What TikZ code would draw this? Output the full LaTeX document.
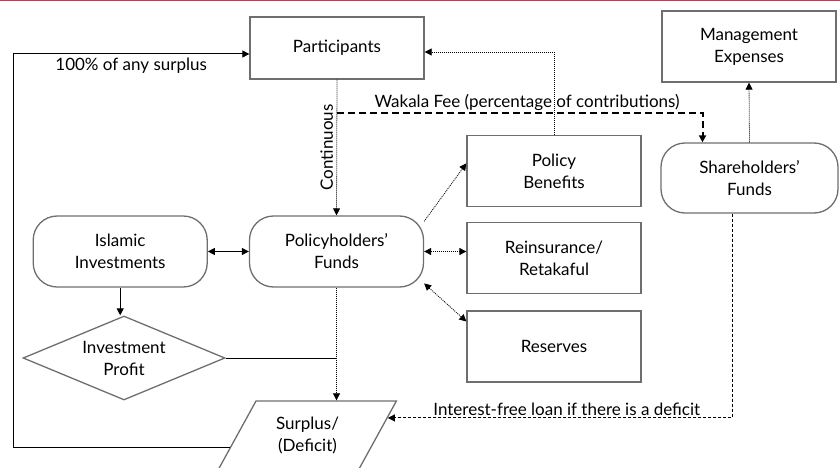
\documentclass[tikz,border=0pt]{standalone}
\usepackage{fontspec}
\setmainfont{Lato}
\usetikzlibrary{positioning,shapes.geometric,arrows.meta}

\definecolor{topline}{HTML}{A54B5F}
\definecolor{boxline}{HTML}{6E6E6E}

\tikzset{
	box/.style={rectangle, draw=boxline, line width=1.3pt, minimum width=174pt, minimum height=71pt, align=center, inner sep=2pt},
	fund/.style={box, rounded corners=24pt},
	flow/.style={dash pattern=on 1pt off 1pt, line width=0.8pt},
	fee/.style={dash pattern=on 7pt off 4pt, line width=2pt},
	loan/.style={dash pattern=on 3pt off 2pt, line width=1pt},
}

\begin{document}
\begin{tikzpicture}[x=1pt, y=-1pt, font=\fontsize{17}{22}\selectfont, >={Stealth[length=7pt,width=7pt,inset=0pt]}]

	\useasboundingbox (0,0) rectangle (840,468);
	\draw[topline, line width=2pt] (0,0) -- (840,0);

	\node[box, minimum height=62pt] (part) at (337,48) {Participants};
	\node[box] (mgmt) at (749,46.5) {Management\\Expenses};
	\node[fund, minimum width=177pt, minimum height=70pt] (share) at (749.5,178) {Shareholders'\\Funds};
	
	\node[box] (ben) at (554,171) {Policy\\Benefits};
	\node[box, below=15pt of ben] (reins) {Reinsurance/\\Retakaful};
	\node[box, below=16pt of reins] (res) {Reserves};
	
	\node[fund] (pol) at (336.5,251.5) {Policyholders'\\Funds};
	\node[fund, left=41pt of pol] (islam) {Islamic\\Investments};
	
	\node[diamond, draw=boxline, line width=1.3pt, minimum width=202pt, minimum height=84pt, aspect=2.4, inner sep=0pt, align=center] (profit) at (124,358) {Investment\\Profit};
	\node[trapezium, trapezium left angle=60, trapezium right angle=120, trapezium stretches, draw=boxline, line width=1.3pt, minimum width=178pt, minimum height=68pt, align=center] (surplus) at (307.5,435) {Surplus/\\(Deficit)};
	
	\coordinate (corner) at (13,54);
	\coordinate (feestart) at (337,113);
	
	\draw[->, line width=1pt] (surplus.189) -| (corner) -- (corner -| part.west) node[midway, below] {100\% of any surplus};
	\draw[->, flow] (part.south) -- (pol.north) node[midway, rotate=90, anchor=south] {Continuous};
	\draw[->, fee] (feestart) -| ([xshift=-47pt]share.north) node[pos=0.26, above, inner sep=1pt] {Wakala Fee (percentage of contributions)};
	\draw[->, flow] (ben.north) |- ([yshift=-4pt]part.east);
	\draw[->, flow] (share.north) -- (mgmt.south);
	
	\draw[->, flow] (pol.19) -- (ben.175);
	\draw[<->, flow] (pol.east) -- (pol.east -| reins.west);
	\draw[<->, flow] (pol.-20) -- (res.164);
	
	\draw[<->, line width=1pt] (islam) -- (pol);
	\draw[->, line width=1pt] (islam.south) -- (islam.south |- profit.north);
	\draw[line width=1pt] (profit.east) -- (profit.east -| pol.south);
	\draw[->, flow] (pol.south) -- (pol.south |- surplus.north);
	
	\draw[->, loan] ([xshift=-17.5pt]share.south) |- (surplus.12) node[pos=0.74, above, inner sep=2pt] {Interest-free loan if there is a deficit};

\end{tikzpicture}
\end{document}
